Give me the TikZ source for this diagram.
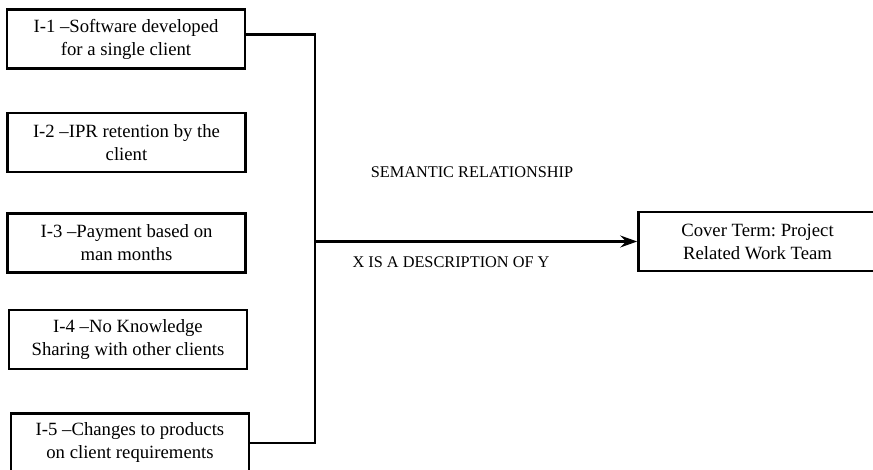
\documentclass[tikz,border=0pt]{standalone}
\usepackage{fontspec}
\setmainfont{Liberation Serif}
\usetikzlibrary{arrows.meta}
\begin{document}
\frenchspacing
\begin{tikzpicture}[x=1pt,y=-1pt,
  itembox/.style={draw,line width=2.7pt,minimum width=238pt,minimum height=59pt,
    align=center,inner sep=0pt,font=\fontsize{18.7}{23}\selectfont},
  relabel/.style={font=\fontsize{16.3}{19}\selectfont,inner sep=0pt},
  conn/.style={line width=2.4pt}]
\useasboundingbox (0,0) rectangle (873,470);
\clip (0,0) rectangle (873,470);

% source items
\node[itembox] (b1) at (126,39) {I-1 –Software developed\\for a single client};
\node[itembox] (b2) at (126.5,142.5) {I-2 –IPR retention by the\\client};
\node[itembox] (b3) at (126.5,243) {I-3 –Payment based on\\man months};
\node[itembox] (b4) at (128,339.5) {I-4 –No Knowledge\\Sharing with other clients};
\node[itembox] (b5) at (130,443) {I-5 –Changes to products\\on client requirements};

% cover term
\node[itembox] (ct) at (757.5,241.5) {Cover Term: Project\\Related Work Team};

% relationship labels
\node[relabel] (sem) at (472,172) {SEMANTIC RELATIONSHIP};
\node[relabel] (desc) at (451,262) {X IS A DESCRIPTION OF Y};

% connectors
\coordinate (jt) at (315,241.5);
\draw[conn] ([yshift=4.5pt]b1.east) -| (jt) |- (b5.east);
\draw[conn,-{Stealth[length=17pt,width=12pt,inset=6pt]}] (jt) -- (ct.west);
\end{tikzpicture}
\end{document}
